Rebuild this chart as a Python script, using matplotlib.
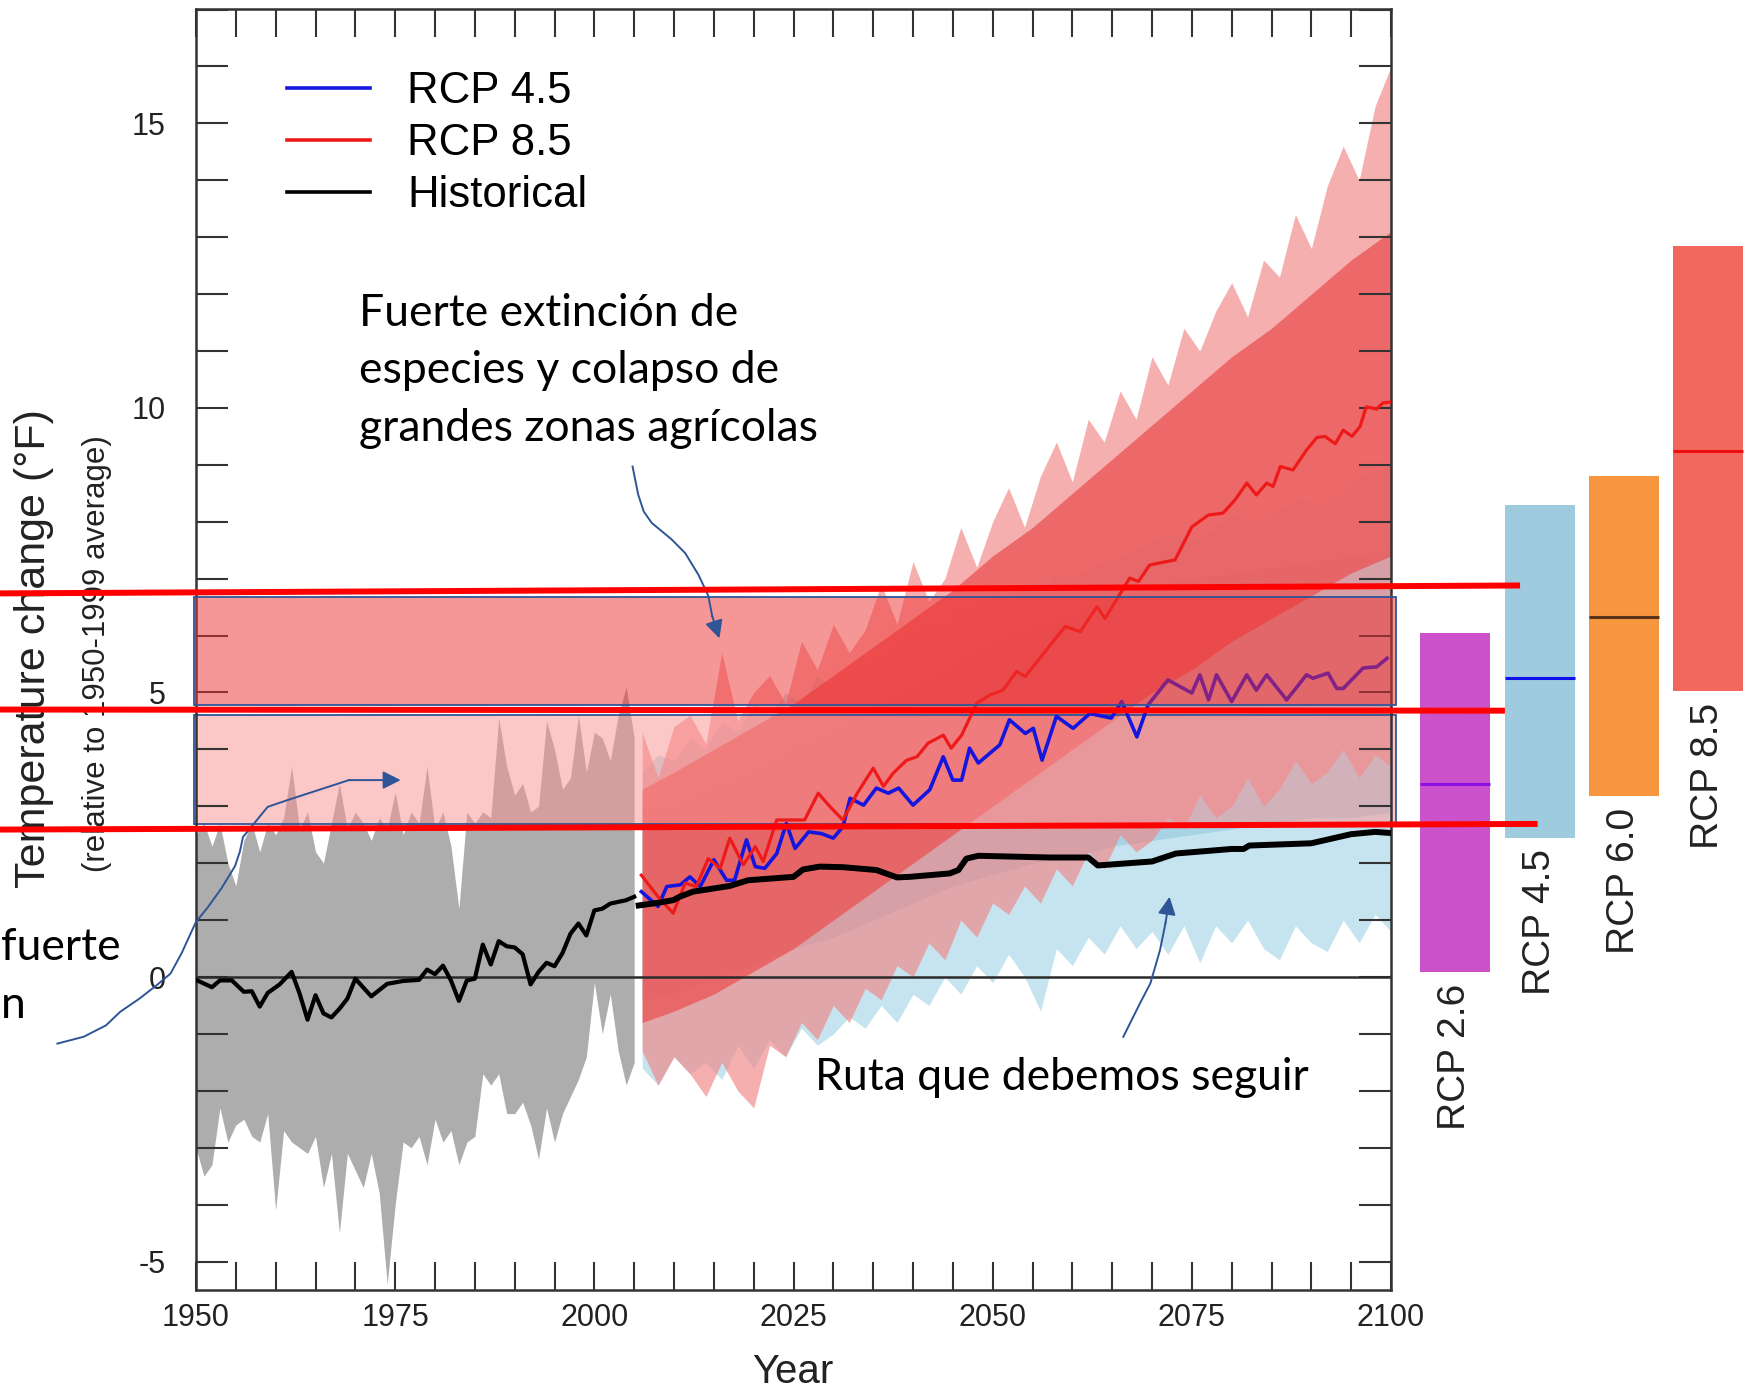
import numpy as np
import matplotlib.pyplot as plt
from matplotlib.lines import Line2D
from matplotlib.patches import Rectangle
from matplotlib.ticker import MultipleLocator

plt.rcParams['axes.unicode_minus'] = False

SANS = ['Liberation Sans', 'DejaVu Sans']
NOTE = ['Lato', 'DejaVu Sans']

# ---- historical model spread (1950-2005), envelope read per year ----
gray_years = list(range(1950, 2006))
gray_upper = [2.5, 2.7, 2.3, 2.7, 2.0, 1.6, 2.4, 2.7, 2.2, 2.7,
              2.5, 2.8, 3.7, 2.6, 2.9, 2.2, 2.0, 2.7, 3.4, 2.6,
              2.9, 2.7, 2.4, 2.8, 2.6, 3.25, 2.5, 2.9, 2.7, 3.7,
              2.6, 2.9, 2.3, 1.2, 2.9, 2.7, 2.9, 2.8, 4.55, 3.7,
              3.2, 3.4, 2.9, 3.0, 4.5, 4.0, 3.3, 3.5, 4.6, 3.6,
              4.3, 4.2, 3.8, 4.6, 5.1, 4.2]
gray_lower = [-3.0, -3.5, -3.3, -2.3, -2.9, -2.6, -2.5, -2.8, -2.9, -2.4,
              -4.1, -2.7, -2.9, -3.0, -3.1, -2.8, -3.7, -3.1, -4.5, -3.1,
              -3.4, -3.7, -3.1, -3.8, -5.4, -4.0, -2.9, -3.0, -2.8, -3.3,
              -2.5, -2.9, -2.7, -3.3, -2.9, -2.8, -1.7, -1.9, -1.7, -2.4,
              -2.4, -2.2, -2.6, -3.2, -2.3, -2.9, -2.4, -2.1, -1.8, -1.4,
              -0.1, -1.0, -0.3, -1.3, -1.9, -1.5]

# ---- observed (historical) line ----
hist_years = [1950, 1952, 1953, 1954.5, 1956, 1957, 1958, 1959, 1960.5, 1962,
              1963, 1964, 1965, 1966, 1967, 1968, 1969, 1970, 1972, 1974,
              1976, 1978, 1979, 1980, 1981, 1982, 1983, 1984, 1985, 1986,
              1987, 1988, 1989, 1990, 1991, 1992, 1993, 1994, 1995, 1996,
              1997, 1998, 1999, 2000, 2001, 2002, 2003, 2004, 2005]
hist_vals = [-0.05, -0.18, -0.06, -0.06, -0.26, -0.25, -0.52, -0.28, -0.13, 0.09,
             -0.29, -0.75, -0.32, -0.64, -0.71, -0.56, -0.38, -0.03, -0.34, -0.12,
             -0.07, -0.05, 0.13, 0.05, 0.2, -0.06, -0.42, -0.06, -0.03, 0.57,
             0.22, 0.63, 0.54, 0.52, 0.40, -0.13, 0.09, 0.25, 0.19, 0.42,
             0.76, 0.94, 0.73, 1.17, 1.2, 1.29, 1.32, 1.35, 1.41]

# ---- RCP 8.5 model spread ----
red_env_years = list(range(2006, 2101, 2))
red_outer_up = [4.3, 3.5, 4.4, 4.6, 4.1, 5.7, 4.5, 5.0, 5.3, 4.8,
                5.9, 5.4, 6.2, 5.7, 6.1, 6.9, 6.2, 7.3, 6.6, 7.0,
                7.9, 7.2, 8.0, 8.6, 7.9, 8.8, 9.4, 8.7, 9.8, 9.4,
                10.3, 9.8, 10.9, 10.4, 11.4, 11.0, 11.7, 12.2, 11.6, 12.6,
                12.3, 13.4, 12.8, 13.9, 14.6, 14.0, 15.3, 16.0]
red_outer_lo = [-1.3, -1.9, -1.4, -1.7, -2.1, -1.5, -2.0, -2.3, -1.2, -1.4,
                -0.8, -1.1, -0.5, -0.8, -0.2, -0.4, 0.2, 0.0, 0.6, 0.3,
                1.0, 0.7, 1.3, 1.1, 1.6, 1.3, 1.9, 1.6, 2.2, 1.9,
                2.5, 2.2, 2.4, 2.8, 2.6, 3.2, 2.8, 3.0, 3.5, 3.0,
                3.3, 3.8, 3.4, 3.6, 4.0, 3.5, 3.9, 3.7]
core_years = [2006, 2010, 2015, 2020, 2025, 2030, 2035, 2040, 2045, 2050,
              2055, 2060, 2065, 2070, 2075, 2080, 2085, 2090, 2095, 2100]
red_core_up = [3.3, 3.6, 4.0, 4.4, 4.8, 5.3, 5.8, 6.3, 6.8, 7.4,
               7.9, 8.5, 9.1, 9.7, 10.3, 10.9, 11.4, 12.0, 12.6, 13.1]
red_core_lo = [-0.8, -0.6, -0.3, 0.1, 0.5, 1.0, 1.5, 2.0, 2.5, 3.0,
               3.5, 4.0, 4.5, 5.0, 5.4, 5.9, 6.3, 6.7, 7.1, 7.4]

# ---- RCP 4.5 model spread ----
blue_up_years = [2006, 2008, 2010, 2012, 2014, 2016, 2018, 2020, 2022, 2024,
                 2026, 2028, 2030, 2032, 2034, 2036, 2037, 2038, 2040, 2042,
                 2044, 2046, 2048, 2050, 2052, 2054, 2056, 2058, 2060, 2064,
                 2068, 2072, 2076, 2080, 2084, 2088, 2092, 2096, 2100]
blue_outer_up = [3.6, 3.9, 3.8, 4.2, 4.0, 4.5, 4.3, 4.8, 4.6, 5.0,
                 4.8, 5.3, 5.1, 5.5, 5.4, 5.6, 7.9, 5.8, 6.0, 6.2,
                 6.1, 6.5, 6.4, 6.8, 6.6, 6.9, 6.8, 7.1, 7.0, 7.3,
                 7.5, 7.8, 7.7, 8.1, 8.0, 8.4, 8.3, 8.8, 9.0]
blue_lo_years = list(range(2006, 2101, 2))
blue_outer_lo = [-1.6, -1.9, -1.4, -1.7, -1.5, -1.8, -1.2, -1.6, -1.1, -1.4,
                 -0.9, -1.2, -1.0, -0.7, -0.9, -0.5, -0.8, -0.3, -0.5, 0.0,
                 -0.3, 0.2, -0.1, 0.4, 0.0, -0.6, 0.5, 0.2, 0.7, 0.4,
                 0.9, 0.5, 0.8, 0.4, 0.9, 0.25, 0.9, 0.6, 1.0, 0.5,
                 0.3, 0.9, 0.6, 0.45, 1.0, 0.6, 1.1, 0.8]
blue_core_up = [3.0, 3.1, 3.4, 3.7, 4.1, 4.4, 4.8, 5.1, 5.5, 5.9,
                6.2, 6.4, 6.6, 6.9, 7.0, 7.1, 7.2, 7.3, 7.4, 7.5]
blue_core_lo = [-0.4, -0.3, 0.0, 0.2, 0.5, 0.7, 1.0, 1.3, 1.6, 1.8,
                2.0, 2.1, 2.3, 2.4, 2.5, 2.6, 2.7, 2.8, 2.8, 2.9]

# ---- scenario means ----
r85_years = [2005.9, 2008.0, 2009.9, 2011.4, 2012.8, 2014.3, 2015.8, 2017.0, 2018.7, 2020.2,
             2021.2, 2022.9, 2024.3, 2026.4, 2028.1, 2029.6, 2031.2, 2033.0, 2035.0, 2036.3,
             2037.5, 2039.2, 2040.5, 2041.9, 2043.8, 2044.8, 2046.1, 2048.0, 2049.7, 2051.3,
             2053.0, 2054.1, 2057.1, 2059.1, 2061.0, 2063.1, 2064.1, 2067.2, 2068.3, 2069.7,
             2072.9, 2075.0, 2077.1, 2078.9, 2080.4, 2081.9, 2083.1, 2084.4, 2085.2, 2086.1,
             2087.7, 2089.4, 2090.7, 2091.7, 2093.0, 2094.0, 2095.1, 2096.1, 2096.9, 2098.2,
             2099.0, 2099.8]
r85_vals = [1.79, 1.41, 1.12, 1.65, 1.59, 2.08, 1.91, 2.44, 1.97, 2.29,
            2.03, 2.76, 2.76, 2.76, 3.23, 2.99, 2.76, 3.23, 3.67, 3.35,
            3.58, 3.81, 3.87, 4.11, 4.25, 4.02, 4.25, 4.81, 4.96, 5.04,
            5.37, 5.28, 5.81, 6.16, 6.07, 6.51, 6.30, 7.01, 6.95, 7.24,
            7.33, 7.91, 8.12, 8.15, 8.38, 8.68, 8.47, 8.68, 8.62, 8.97,
            8.91, 9.26, 9.48, 9.50, 9.37, 9.61, 9.50, 9.67, 10.02, 9.98,
            10.09, 10.1]
r45_years = [2005.9, 2008.0, 2009.1, 2010.8, 2012.0, 2013.3, 2015.0, 2016.6, 2017.6, 2019.1,
             2020.2, 2021.4, 2022.9, 2024.1, 2025.2, 2026.9, 2028.5, 2030.0, 2031.2, 2032.1,
             2033.8, 2035.4, 2036.9, 2038.2, 2040.0, 2042.1, 2043.8, 2045.0, 2046.1, 2047.1,
             2048.2, 2050.9, 2052.1, 2054.1, 2055.1, 2056.2, 2058.0, 2060.1, 2062.2, 2064.9,
             2066.2, 2068.1, 2069.5, 2072.0, 2075.0, 2076.0, 2077.1, 2078.1, 2080.0, 2081.9,
             2083.1, 2084.4, 2086.9, 2089.4, 2090.2, 2092.1, 2093.2, 2094.0, 2096.5, 2098.2,
             2099.5]
r45_vals = [1.50, 1.24, 1.59, 1.62, 1.76, 1.59, 2.06, 1.70, 1.70, 2.41,
            1.94, 1.91, 2.17, 2.70, 2.26, 2.55, 2.52, 2.44, 2.64, 3.14,
            3.02, 3.32, 3.23, 3.32, 3.02, 3.29, 3.87, 3.46, 3.46, 4.02,
            3.76, 4.08, 4.52, 4.28, 4.37, 3.81, 4.58, 4.37, 4.63, 4.55,
            4.84, 4.22, 4.78, 5.22, 4.99, 5.31, 4.87, 5.31, 4.84, 5.31,
            5.04, 5.31, 4.87, 5.31, 5.25, 5.34, 5.07, 5.07, 5.43, 5.45,
            5.6]

# ---- hand drawn "route" line ----
route_years = [2005.2, 2007.8, 2009.9, 2010.7, 2012.4, 2017.0, 2019.3, 2025.0, 2026.2, 2028.3,
               2031.2, 2035.4, 2038.0, 2039.6, 2044.6, 2045.7, 2046.7, 2048.2, 2057.2, 2062.0,
               2063.2, 2070.0, 2073.0, 2080.0, 2081.5, 2082.2, 2090.0, 2095.0, 2098.0, 2100.0]
route_vals = [1.25, 1.30, 1.35, 1.41, 1.50, 1.60, 1.70, 1.76, 1.89, 1.94,
              1.93, 1.88, 1.75, 1.76, 1.82, 1.88, 2.08, 2.13, 2.10, 2.10,
              1.96, 2.03, 2.17, 2.25, 2.25, 2.31, 2.35, 2.51, 2.55, 2.53]

# ---- right side: end-of-century ranges ----
bar_names = ['RCP 2.6', 'RCP 4.5', 'RCP 6.0', 'RCP 8.5']
bar_low = [0.08, 2.45, 3.18, 5.02]
bar_high = [6.05, 8.30, 8.81, 12.85]
bar_mean = [3.40, 5.26, 6.32, 9.25]
bar_colors = ['#cc52cc', '#9ecbde', '#f8953f', '#f2685e']
bar_mean_colors = ['#8a10e6', '#1010ee', '#5a3418', '#ee1010']

# ---- shaded bands and red guide lines (value ranges) ----
band_x = (1949.8, 2100.6)
band_upper = (4.78, 6.68)
band_lower = (2.69, 4.60)
guide_x_end = [2116.2, 2114.3, 2118.4]
guide_y_left = [6.74, 4.70, 2.59]
guide_y_right = [6.88, 4.68, 2.69]

# ---- hand drawn arrows ----
arrow_top_x = [2004.8, 2005.5, 2006.2, 2007.2, 2009.7, 2011.4, 2013.1, 2014.3, 2014.8, 2015.7]
arrow_top_y = [8.97, 8.48, 8.18, 7.98, 7.69, 7.45, 7.06, 6.70, 6.34, 5.95]
arrow_left_x = [1932.6, 1935.9, 1938.7, 1940.5, 1942.9, 1945.1, 1946.8, 1948.2, 1950.0, 1951.4,
                1953.2, 1954.9, 1955.5, 1955.9, 1959.0, 1961.3, 1969.2, 1975.7]
arrow_left_y = [-1.17, -1.05, -0.85, -0.61, -0.38, -0.14, 0.06, 0.42, 0.97, 1.21,
                1.56, 1.95, 2.2, 2.46, 2.99, 3.10, 3.46, 3.46]
arrow_low_x = [2066.4, 2068.5, 2069.8, 2071.0, 2071.7, 2072.2]
arrow_low_y = [-1.05, -0.46, -0.11, 0.47, 0.95, 1.41]

W, H = 1764, 1390
fig = plt.figure(figsize=(W / 100, H / 100), dpi=100)
ax = fig.add_axes([196 / W, 1 - 1290 / H, (1391 - 196) / W, (1290 - 9) / H])
ax.set_xlim(1950, 2100)
ax.set_ylim(-5.5, 17.01)

# spreads
ax.fill_between(gray_years, gray_lower, gray_upper, color='#adadad', lw=0, zorder=1)
ax.fill_between(blue_lo_years, blue_outer_lo, np.interp(blue_lo_years, blue_up_years, blue_outer_up),
                color='#c6e4ef', lw=0, zorder=1)
ax.fill_between(core_years, blue_core_lo, blue_core_up, color='#a7d3e4', lw=0, zorder=1.1)
ax.fill_between(red_env_years, red_outer_lo, red_outer_up, color='#f08585', alpha=0.65, lw=0, zorder=1.2)
ax.fill_between(core_years, red_core_lo, red_core_up, color='#eb5858', alpha=0.8, lw=0, zorder=1.3)

# lower band sits under the scenario lines, upper band tints them
ax.add_patch(Rectangle((band_x[0], band_lower[0]), band_x[1] - band_x[0], band_lower[1] - band_lower[0],
                       facecolor=(0.984, 0.57, 0.57, 0.5), edgecolor='#2f5597', lw=1.3,
                       clip_on=False, zorder=1.5))

ax.axhline(0, color='#2b2b2b', lw=1.8, zorder=2)
h_hist, = ax.plot(hist_years, hist_vals, color='black', lw=3.0, zorder=3, label='Historical')
h45, = ax.plot(r45_years, r45_vals, color='#1515e0', lw=2.6, zorder=3, label='RCP 4.5')
h85, = ax.plot(r85_years, r85_vals, color='#ee1a1a', lw=2.3, zorder=3.1, label='RCP 8.5')

ax.add_patch(Rectangle((band_x[0], band_upper[0]), band_x[1] - band_x[0], band_upper[1] - band_upper[0],
                       facecolor=(0.937, 0.19, 0.19, 0.5), edgecolor='#2f5597', lw=1.3,
                       clip_on=False, zorder=4))

ax.plot(route_years, route_vals, color='black', lw=4.3, solid_capstyle='butt', zorder=5)

# ticks / frame
ax.set_xticks([1950, 1975, 2000, 2025, 2050, 2075, 2100])
ax.xaxis.set_minor_locator(MultipleLocator(5))
ax.set_yticks([-5, 0, 5, 10, 15])
ax.yaxis.set_minor_locator(MultipleLocator(1))
ax.tick_params(axis='x', which='both', direction='in', length=20, width=1.5, top=True,
               colors='#333333', labelcolor='#222222', pad=9)
ax.tick_params(axis='y', which='both', direction='in', length=23, width=1.5, right=True,
               colors='#333333', labelcolor='#222222', pad=22)
for lab in ax.get_xticklabels() + ax.get_yticklabels():
    lab.set_fontsize(22)
    lab.set_family(SANS)
for sp in ax.spines.values():
    sp.set_linewidth(1.8)
    sp.set_color('#333333')

leg = ax.legend(handles=[h45, h85, h_hist], loc='upper left', bbox_to_anchor=(0.0762, 0.9516),
                frameon=False, handlelength=1.9, handletextpad=0.85, labelspacing=0.25,
                borderpad=0, borderaxespad=0, prop={'family': SANS, 'size': 31.5})
for ln in leg.get_lines():
    ln.set_linewidth(2.6)

# annotation texts
ax.text(1970.5, 10.65, 'Fuerte extinción de\nespecies y colapso de\ngrandes zonas agrícolas',
        ha='left', va='center', fontsize=32, family=NOTE, linespacing=1.5, zorder=6)
ax.text(2058.7, -1.76, 'Ruta que debemos seguir', ha='center', va='center',
        fontsize=32, family=NOTE, zorder=6)
# partly visible note at the left edge
fig.text(1 / W, 1 - 948 / H, 'fuerte', ha='left', va='center', fontsize=32, family=NOTE)
fig.text(1 / W, 1 - 1006 / H, 'n', ha='left', va='center', fontsize=32, family=NOTE)

# hand drawn arrows
for xs, ys in [(arrow_top_x, arrow_top_y), (arrow_left_x, arrow_left_y), (arrow_low_x, arrow_low_y)]:
    ax.plot(xs[:-1], ys[:-1], color='#2f5597', lw=1.4, clip_on=False, zorder=7)
    ax.annotate('', xy=(xs[-1], ys[-1]), xytext=(xs[-2], ys[-2]), annotation_clip=False,
                arrowprops=dict(arrowstyle='-|>,head_length=0.6,head_width=0.3', mutation_scale=18,
                                color='#2f5597', lw=1.4, shrinkA=0, shrinkB=0), zorder=7)

# axis titles
fig.text(34 / W, 1 - 649 / H, 'Temperature change (°F)', rotation=90, ha='center', va='center',
         fontsize=31, family=SANS, color='#222222')
fig.text(97 / W, 1 - 654 / H, '(relative to 1950-1999 average)', rotation=90, ha='center',
         va='center', fontsize=22.5, family=SANS, color='#222222')
fig.text(793 / W, 1 - 1372 / H, 'Year', ha='center', va='center', fontsize=29, family=SANS,
         color='#222222')

# right panel with scenario ranges
ax2 = fig.add_axes([1413 / W, 1 - 1290 / H, 337.5 / W, (1290 - 9) / H])
ax2.set_xlim(0, 4)
ax2.set_ylim(-5.5, 17.01)
ax2.axis('off')
pos = np.arange(4) + 0.5
ax2.bar(pos, np.array(bar_high) - np.array(bar_low), bottom=bar_low, width=0.83, color=bar_colors)
ax2.hlines(bar_mean, pos - 0.415, pos + 0.415, colors=bar_mean_colors, lw=2.2)
for p, lo, name in zip(pos, bar_low, bar_names):
    ax2.text(p, lo - 0.2, name, rotation=90, ha='center', va='top', fontsize=28,
             family=SANS, color='#222222')

# red guide lines across the whole figure
for xe, yl, yr in zip(guide_x_end, guide_y_left, guide_y_right):
    fig.add_artist(Line2D([1924.0, xe], [yl, yr], transform=ax.transData, color='#ff0000',
                          lw=4.3, solid_capstyle='butt', zorder=10))

fig.savefig('out.png', dpi=100)
